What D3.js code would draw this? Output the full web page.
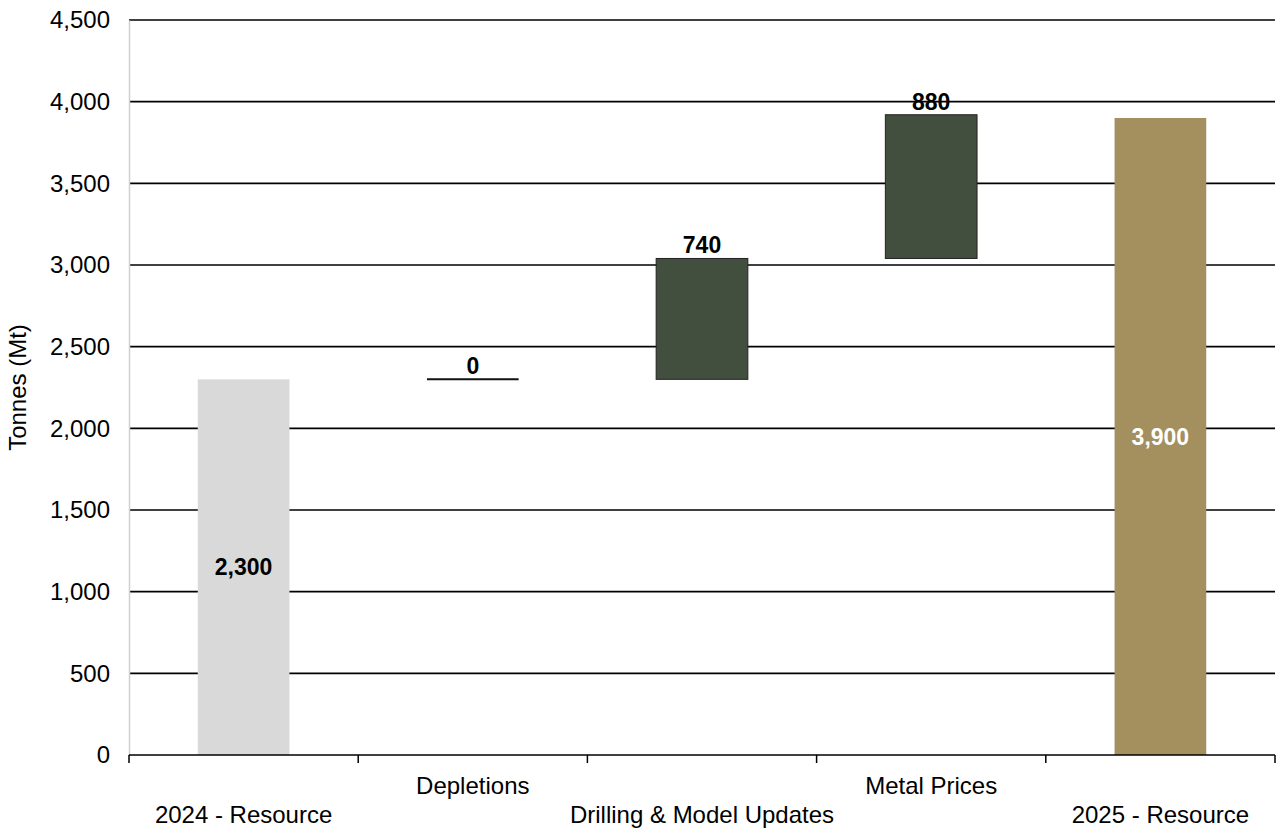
<!DOCTYPE html>
<html><head><meta charset="utf-8">
<script src="https://cdn.jsdelivr.net/npm/d3@7"></script>
<style>body{margin:0;background:#fff;}svg{display:block;font-family:"Liberation Sans",Arial,sans-serif;}</style>
</head><body><svg id="c" width="1277" height="832"></svg>
<script>
const categories = ["2024 - Resource","Depletions","Drilling & Model Updates","Metal Prices","2025 - Resource"];
const values = [2300, 0, 740, 880, 3900];
const kinds = ["total","delta","delta","delta","total"];
const labels = ["2,300","0","740","880","3,900"];
const yTicks = [0,500,1000,1500,2000,2500,3000,3500,4000,4500];
const colors = {start:"#d9d9d9", delta:"#434f3e", end:"#a48f5f"};
const FS = 24;

const svg = d3.select("#c");
const m = {l:129, r:1275, t:20, b:755};
const x = d3.scaleBand().domain(categories).range([m.l, m.r]).paddingInner(0).paddingOuter(0);
const y = d3.scaleLinear().domain([0,4500]).range([m.b, m.t]);
const bw = x.bandwidth()*0.4;

// gridlines
svg.append("g").selectAll("line").data(yTicks.filter(d=>d>0)).join("line")
  .attr("x1", m.l).attr("x2", m.r).attr("y1", d=>y(d)).attr("y2", d=>y(d))
  .attr("stroke","#000").attr("stroke-width",1.6);

// y axis
const ya = svg.append("g").attr("transform",`translate(${m.l},0)`)
  .call(d3.axisLeft(y).tickValues(yTicks).tickSize(0).tickPadding(19).tickFormat(d3.format(",")));
ya.attr("font-size",FS).attr("font-family","Liberation Sans, Arial, sans-serif");
ya.select(".domain").attr("stroke","#d0d0d0").attr("stroke-width",1.5);
ya.selectAll("text").attr("font-size",FS).attr("fill","#000");

// compute waterfall
let run = 0;
const bars = values.map((v,i)=>{
  let lo, hi, type;
  if(kinds[i]==="total"){ lo=0; hi=v; run=v; type = i===0?"start":"end"; }
  else { lo=run; hi=run+v; run=hi; type="delta"; }
  return {cat:categories[i], v, lo, hi, type, label:labels[i]};
});

const g = svg.append("g");
bars.forEach(b=>{
  const cx = x(b.cat)+x.bandwidth()/2;
  if(b.type==="delta" && b.v===0){
    g.append("line").attr("x1",cx-bw/2).attr("x2",cx+bw/2)
      .attr("y1",y(b.lo)).attr("y2",y(b.lo)).attr("stroke","#111").attr("stroke-width",2);
  } else {
    g.append("rect").attr("x",cx-bw/2).attr("width",bw)
      .attr("y",y(b.hi)).attr("height",y(b.lo)-y(b.hi))
      .attr("fill",colors[b.type])
      .attr("stroke", b.type==="delta"?"#222":"none").attr("stroke-width",1);
  }
  const t = g.append("text").attr("x",cx).attr("text-anchor","middle")
    .attr("font-size",FS-1).attr("font-weight","bold");
  if(b.type==="delta"){
    t.attr("y", y(b.hi)-5).attr("fill","#000").text(b.label);
  } else {
    t.attr("y", (y(b.lo)+y(b.hi))/2).attr("dy","0.35em")
     .attr("fill", b.type==="end"?"#fff":"#000").text(b.label);
  }
});

// x axis
const xa = svg.append("g").attr("transform",`translate(0,${m.b})`);
xa.append("line").attr("x1",m.l).attr("x2",m.r).attr("stroke","#000").attr("stroke-width",1.6);
const edges = categories.map(c=>x(c)).concat([m.r]);
xa.selectAll("line.tk").data(edges).join("line").attr("class","tk")
  .attr("x1",d=>d).attr("x2",d=>d).attr("y1",0).attr("y2",8).attr("stroke","#000").attr("stroke-width",1.5);
xa.selectAll("text").data(categories).join("text")
  .attr("x",d=>x(d)+x.bandwidth()/2)
  .attr("y",(d,i)=> i%2===1 ? 39 : 68)
  .attr("text-anchor","middle").attr("font-size",FS).attr("fill","#000").text(d=>d);

// y title
svg.append("text").attr("transform",`translate(26,${(m.t+m.b)/2}) rotate(-90)`)
  .attr("text-anchor","middle").attr("font-size",FS).attr("fill","#000").text("Tonnes (Mt)");
</script></body></html>
